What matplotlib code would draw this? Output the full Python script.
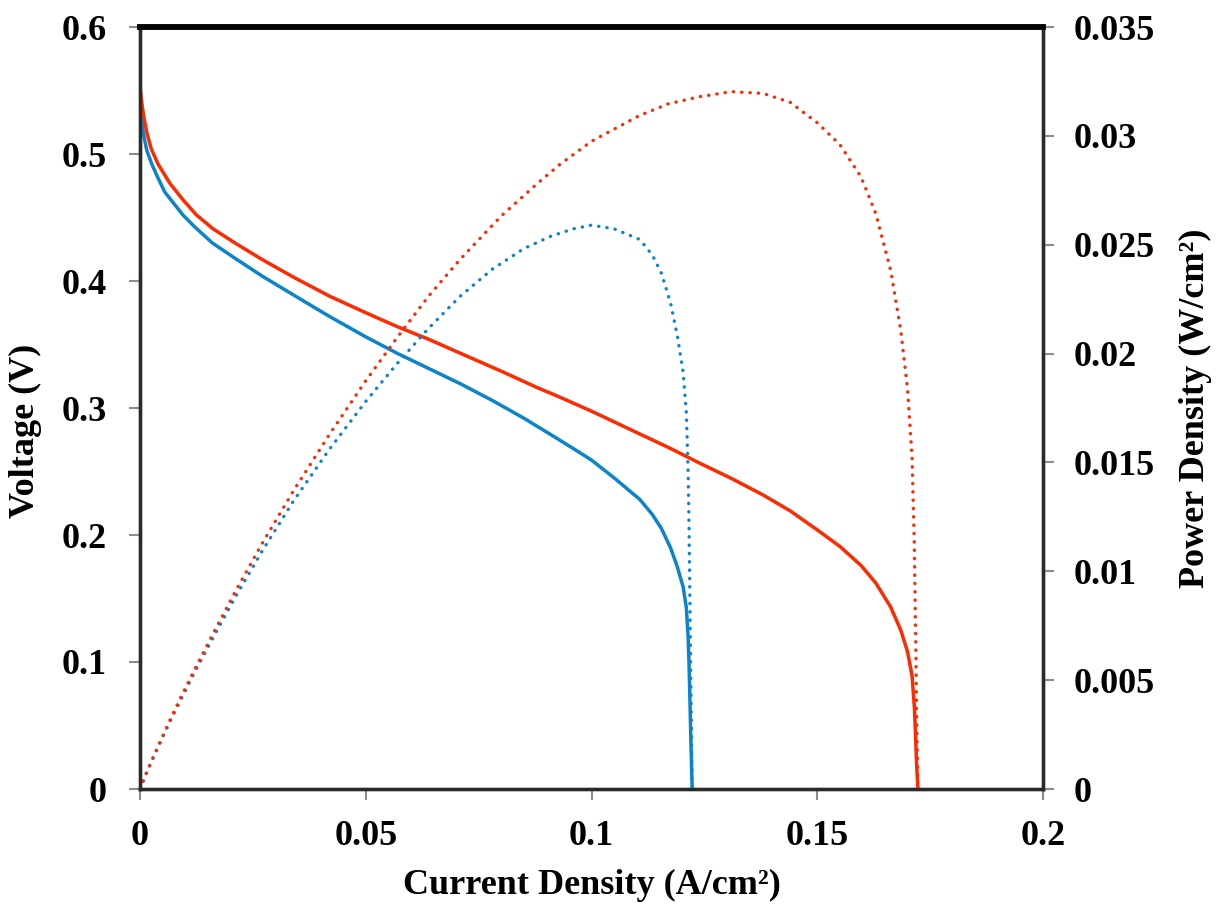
import matplotlib
matplotlib.use("Agg")
import matplotlib.pyplot as plt

# Blue cell: current density (A/cm2), voltage (V), power density (W/cm2)
blue_i = [0.0, 0.0003, 0.0008, 0.0015, 0.0025, 0.004, 0.0055, 0.0075, 0.0095, 0.012,
          0.016, 0.021, 0.027, 0.034, 0.042, 0.050, 0.057, 0.064, 0.071, 0.078,
          0.085, 0.091, 0.096, 0.100, 0.105, 0.1107, 0.1135, 0.1155, 0.1175, 0.119,
          0.1203, 0.1210, 0.1214, 0.1216, 0.1218, 0.1220, 0.1223]
blue_v = [0.537, 0.527, 0.515, 0.503, 0.493, 0.481, 0.470, 0.461, 0.452, 0.443,
          0.430, 0.418, 0.404, 0.389, 0.372, 0.356, 0.343, 0.331, 0.319, 0.306,
          0.292, 0.279, 0.268, 0.259, 0.245, 0.228, 0.216, 0.205, 0.190, 0.175,
          0.159, 0.143, 0.120, 0.099, 0.070, 0.040, 0.0]
blue_p = [0.0, 0.00016, 0.00041, 0.00076, 0.00123, 0.00192, 0.00259, 0.00346, 0.00429, 0.00532,
          0.00688, 0.00878, 0.01091, 0.01323, 0.01562, 0.0178, 0.01955, 0.02118, 0.02265, 0.02387,
          0.02482, 0.02539, 0.02573, 0.0259, 0.02573, 0.02524, 0.02452, 0.02368, 0.02233, 0.02083,
          0.01913, 0.0173, 0.01457, 0.01204, 0.00853, 0.00488, 0.0]

# Red cell
red_i = [0.0, 0.0003, 0.0008, 0.0015, 0.0025, 0.004, 0.0066, 0.0095, 0.0125, 0.0162,
         0.021, 0.027, 0.034, 0.042, 0.050, 0.057, 0.064, 0.071, 0.080, 0.088,
         0.093, 0.100, 0.1107, 0.117, 0.124, 0.131, 0.138, 0.144, 0.150, 0.155,
         0.1597, 0.163, 0.1663, 0.1685, 0.170, 0.171, 0.1715, 0.1718, 0.1720, 0.1723]
red_v = [0.553, 0.543, 0.530, 0.517, 0.504, 0.492, 0.477, 0.464, 0.452, 0.441,
         0.430, 0.417, 0.403, 0.388, 0.375, 0.364, 0.354, 0.343, 0.329, 0.316,
         0.3085, 0.2975, 0.2795, 0.269, 0.2565, 0.2445, 0.2315, 0.219, 0.204, 0.191,
         0.176, 0.162, 0.143, 0.125, 0.108, 0.089, 0.065, 0.040, 0.020, 0.0]
red_p = [0.0, 0.00016, 0.00042, 0.00078, 0.00126, 0.00197, 0.00315, 0.00441, 0.00565, 0.00714,
         0.00903, 0.01126, 0.0137, 0.0163, 0.01875, 0.02075, 0.02266, 0.02435, 0.02632, 0.02781,
         0.02869, 0.02975, 0.03094, 0.03147, 0.0318, 0.03203, 0.03195, 0.03154, 0.0306, 0.0296,
         0.02811, 0.02641, 0.02378, 0.02106, 0.01836, 0.01522, 0.01115, 0.00687, 0.00344, 0.0]

x_ticks = [0, 0.05, 0.1, 0.15, 0.2]
x_labels = ["0", "0.05", "0.1", "0.15", "0.2"]
v_ticks = [0, 0.1, 0.2, 0.3, 0.4, 0.5, 0.6]
v_labels = ["0", "0.1", "0.2", "0.3", "0.4", "0.5", "0.6"]
p_ticks = [0, 0.005, 0.01, 0.015, 0.02, 0.025, 0.03, 0.035]
p_labels = ["0", "0.005", "0.01", "0.015", "0.02", "0.025", "0.03", "0.035"]

BLUE = "#0A84CC"
RED = "#FF2A00"

plt.rcParams["font.family"] = ["Liberation Serif", "DejaVu Serif"]
plt.rcParams["font.weight"] = "bold"

fig = plt.figure(figsize=(12.19, 9.07), dpi=100)
ax = fig.add_axes([140 / 1219, 1 - 789 / 907, (1043 - 140) / 1219, (789 - 27) / 907])
ax2 = ax.twinx()

ax.plot(blue_i, blue_v, color=BLUE, lw=2.5, solid_joinstyle="round", zorder=3)
ax.plot(red_i, red_v, color=RED, lw=2.5, solid_joinstyle="round", zorder=3)
ax2.plot(blue_i, blue_p, color=BLUE, lw=2.4, linestyle=(0, (0.1, 2.4)),
         dash_capstyle="round")
ax2.plot(red_i, red_p, color=RED, lw=2.4, linestyle=(0, (0.1, 2.4)),
         dash_capstyle="round")

ax.set_xlim(0, 0.2)
ax.set_ylim(0, 0.6)
ax2.set_ylim(0, 0.035)
ax.set_xticks(x_ticks)
ax.set_xticklabels(x_labels)
ax.set_yticks(v_ticks)
ax.set_yticklabels(v_labels)
ax2.set_yticks(p_ticks)
ax2.set_yticklabels(p_labels)

fs = 26
ax.tick_params(axis="x", direction="out", length=8, width=1.5, color="#8c8c8c",
               labelsize=fs, pad=14)
ax.tick_params(axis="y", direction="out", length=8, width=1.5, color="#8c8c8c",
               labelsize=fs, pad=16)
ax2.tick_params(axis="y", direction="out", length=8, width=1.5, color="#8c8c8c",
                labelsize=fs, pad=14)
for a in (ax, ax2):
    for side in ("left", "right", "bottom"):
        a.spines[side].set_linewidth(2.4)
        a.spines[side].set_color("#2a2a2a")
    a.spines["top"].set_linewidth(4)
    a.spines["top"].set_color("black")
for lab in ax.get_xticklabels() + ax.get_yticklabels() + ax2.get_yticklabels():
    lab.set_fontweight("bold")

ax.set_xlabel("Current Density (A/cm²)", fontsize=fs, fontweight="bold", labelpad=12)
ax.set_ylabel("Voltage (V)", fontsize=fs, fontweight="bold", labelpad=12)
ax.yaxis.set_label_coords(-0.108, 0.47)
ax2.set_ylabel("Power Density (W/cm²)", fontsize=fs, fontweight="bold",
               labelpad=17, rotation=90)

fig.savefig("out.png", dpi=100)
